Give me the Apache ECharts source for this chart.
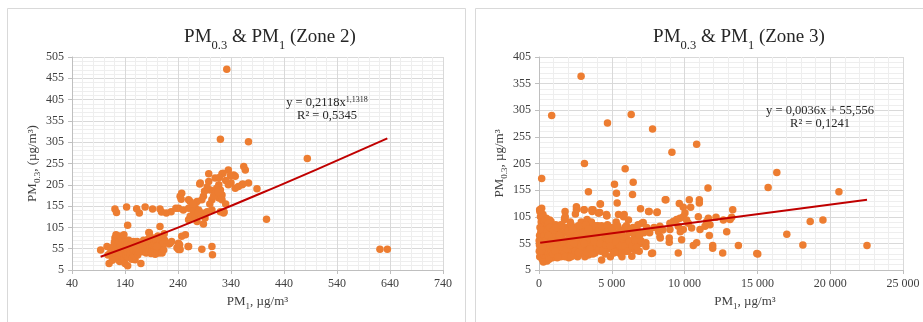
<!DOCTYPE html>
<html><head><meta charset="utf-8">
<script src="https://cdn.jsdelivr.net/npm/echarts@6/dist/echarts.min.js"></script>
<style>html,body{margin:0;padding:0;background:#fff}#c{width:923px;height:322px}</style>
</head><body><div id="c"></div>
<script>
// Zone 2: PM1 (x) vs PM0.3 (y)
const zone2Points = [
[332,476],[320,312],[373,306],[484,267],[407,124],[621,54],[635,54],[389,196],
[364,248],[367,240],[335,240],[345,228],[348,225],[323,231],[325,232],[339,227],[298,231],[310,221],[282,209],[298,213],[317,205],[313,197],[320,193],[301,193],[310,185],[323,181],[317,174],[323,170],[348,197],[361,205],[373,209],[362,207],[354,201],
[244,178],[247,185],[260,170],[263,166],[288,178],[285,170],[304,170],[276,166],[272,154],[241,150],[250,146],[260,150],[269,142],[279,146],[285,139],[295,142],[304,146],[263,131],[272,127],[282,135],[291,127],[276,119],[260,123],[288,113],[320,142],[326,139],[327,141],[281,207],
[254,88],[247,84],[241,68],[238,57],[244,53],[260,60],[285,54],[304,60],[305,41],[225,68],[241,53],[223,66],[243,64],[259,60],
[94,52],[110,20],[121,148],[124,140],[143,153],[145,110],[162,149],[167,139],[178,153],[192,148],[206,148],[209,141],[218,139],[227,142],[236,150],[246,171],[206,107],[185,93],[170,20],[159,29],
[112,45],[115,55],[118,60],[118,35],[120,70],[121,80],[122,50],[124,40],[125,62],[126,30],[127,55],[128,72],[129,45],[130,85],[130,25],[131,60],[132,50],[133,38],[134,68],[135,55],[136,78],[137,44],[138,30],[139,62],[140,50],[140,20],[141,72],[142,40],[143,58],[144,66],[145,48],[145,15],[146,35],[147,75],[148,55],[149,62],[150,42],[151,50],[152,68],[153,30],[154,58],[155,45],[156,72],[157,52],[158,38],[160,62],[161,48],[162,55],[164,40],[165,65],[106,60],[108,40],[116,28],[123,88],[138,88],
[168,55],[170,62],[172,48],[174,68],[175,58],[177,52],[178,72],[180,45],[181,62],[183,55],[184,78],[185,50],[186,66],[188,58],[189,44],[190,70],[191,52],[192,62],[193,80],[194,48],[195,58],[196,68],[197,42],[198,55],[199,75],[200,62],[201,50],[202,85],[203,58],[204,45],[205,66],[206,55],[207,72],[208,50],[209,62],[210,45],[211,58],[212,68],[213,52],[215,75],[186,92],[175,75],[163,72],[166,48],[211,82],[214,90],[200,60],[228,72],
[300,160],[307,178],[315,188],[330,215],[335,205],[318,222],[290,190],[295,200],[268,160],[278,140],[330,160],[340,210]
];
const zone2Trend = [[94,36],[200,85],[300,135],[400,187],[500,240],[635,314]];

// Zone 3: PM1 (x) vs PM0.3 (y)
const zone3Points = [
[2890,369],[872,295],[6331,297],[4703,281],[7800,270],[10828,241],[9130,226],[3120,205],[5918,195],[184,177],[5184,166],[6469,170],[3395,152],[5322,149],[6423,147],[5368,131],[11607,159],[15736,160],[16333,188],[20600,152],[22527,51],[19500,99],[18627,96],[17020,72],[18122,52],[15025,35],
[184,121],[46,118],[275,109],[505,102],[734,99],[826,96],[1766,102],[1790,115],[2569,124],[2569,118],[3097,118],[3716,118],[4221,129],[4175,113],[4634,109],[5850,109],[3625,118],[4083,112],[4657,107],
[50,30],[80,45],[100,60],[120,75],[150,38],[180,52],[200,88],[220,25],[250,68],[280,42],[300,55],[320,80],[350,33],[380,62],[400,48],[420,90],[450,28],[480,72],[500,58],[520,40],[550,22],[580,65],[600,50],[620,82],[650,35],[680,58],[700,45],[720,75],[750,30],[780,62],[800,50],[830,88],[860,40],[880,70],[900,55],[930,28],[960,65],[990,45],[100,105],[60,115],[250,105],[150,95],[350,95],[450,100],[550,97],[650,93],[40,70],[30,52],[20,40],[10,60],[70,85],[300,20],[700,25],[400,75],[850,78],
[1050,35],[1100,55],[1150,70],[1200,45],[1250,28],[1300,62],[1350,80],[1400,50],[1450,38],[1500,30],[1550,68],[1600,55],[1650,42],[1700,75],[1750,100],[1800,105],[1850,48],[1900,62],[1950,85],[2000,35],[2050,58],[2100,72],[2150,45],[2200,90],[2250,43],[2300,65],[2350,52],[2400,78],[2450,38],[2500,110],[2550,60],[2600,120],[2650,48],[2700,88],[2750,70],[2800,35],[2850,55],[2900,95],[2950,65],[3000,42],[1150,90],[1250,50],[1350,40],[1450,75],[1650,62],[1850,80],[2050,28],[2250,60],[2450,85],[2650,30],[2850,75],[1050,72],[1600,88],[2150,95],[2700,52],[2950,80],[1750,35],[2350,32],[2550,78],[1950,50],
[3050,60],[3100,118],[3150,85],[3200,45],[3250,70],[3300,100],[3350,52],[3400,33],[3450,78],[3500,62],[3550,90],[3600,43],[3650,115],[3700,68],[3750,55],[3800,80],[3850,37],[3900,60],[3950,72],[4000,48],[4050,88],[4100,112],[4150,58],[4200,129],[4250,40],[4300,24],[4350,75],[4400,62],[4450,85],[4500,50],[4550,35],[4600,70],[4650,107],[4700,58],[4750,80],[4800,45],[4850,65],[4900,30],[4950,75],[5000,55],[3150,30],[3600,95],[4100,42],[3350,65],[4450,48],
[5050,82],[5100,45],[5116,37],[5150,60],[5200,75],[5250,50],[5300,95],[5350,40],[5400,65],[5460,109],[5500,52],[5550,80],[5600,35],[5650,60],[5700,72],[5750,45],[5804,105],[5850,58],[5900,85],[5950,40],[6000,65],[6050,50],[6148,99],[6200,75],[6250,45],[6300,60],[6377,31],[6450,85],[6500,55],[6550,70],[6600,42],[6700,62],[6800,78],[6882,40],[6950,55],[7066,93],[7157,94],[7341,49],[7341,56],
[6974,120],[7570,115],[8120,114],[8098,113],[7524,115],[7800,37],[7731,36],[8304,87],[8304,68],[8327,65],[8212,77],[8992,81],[8946,65],[8946,57],[9566,87],[9910,81],[9566,37],[9795,62],[9704,77],[8717,137],[8670,137],[9635,130],[10323,137],[11011,137],[11011,131],[9910,123],[10415,123],[10025,112],[9910,105],[9680,102],[9451,100],[9222,96],[8992,93],[10942,105],[11630,102],[12158,104],[13305,118],[13236,104],[12663,99],[13122,100],[10140,99],[10254,93],[10484,84],[11057,81],[11401,87],[11745,90],[11516,96],[12892,77],[11699,70],[10828,56],[10598,51],[11929,51],[11929,46],[13695,51],[12617,37],[14957,36],[7900,85],[8500,80],[7600,75],
[150,80],[250,50],[350,70],[450,60],[550,78],[650,70],[750,85],[850,60],[950,35],[1000,80],[1100,40],[1200,85],[1300,30],[1400,70],[1500,90],[1550,48],[1700,55],[1800,30],[1900,45],[2000,78],[2100,52],[2200,30],[2300,82],[2400,55],[2500,40],[2600,70],[2700,38],[2800,88],[2900,50],[3000,75],[3100,55],[3200,90],[3300,38],[3400,82],[3500,45],[3600,70],[3700,35],[3800,58],[3900,88],[4000,70],[4100,80],[4200,55],[4300,88],[4400,42],[4500,72],[4600,52],[4700,90],[4800,62],[4900,50],[5000,85],[5100,70],[5200,38],[5300,58],[5400,88],[5500,72],[5600,50],[5700,30],[5800,68],[5900,50],[6000,88],[6100,40],[6200,58],[6300,82],[6400,50],[6500,75],[6600,60],[6700,48],[6800,90],[6900,70],[7000,60],[7200,75],[7400,85]
];
const zone3Trend = [[80,56],[22530,137]];

const zone2Title = '{n|PM}{s|0.3}{n| & PM}{s|1}{n| (Zone 2)}';
const zone3Title = '{n|PM}{s|0.3}{n| & PM}{s|1}{n| (Zone 3)}';
const zone2YName = '{n|PM}{s|0.3}{n|, (µg/m³)}';
const zone3YName = '{n|PM}{s|0.3}{n|, µg/m³}';
const xName = '{n|PM}{s|1}{n|, µg/m³}';

const FONT = '"Liberation Serif","Times New Roman",serif';
const TXT = '#404040';
const richTitle = {
  n:{fontFamily:FONT,fontSize:19,fontWeight:'normal',color:'#262626',lineHeight:24,verticalAlign:'bottom'},
  s:{fontFamily:FONT,fontSize:12.5,fontWeight:'normal',color:'#262626',lineHeight:24,verticalAlign:'bottom',padding:[0,0,-5,0]}
};
const richName = {
  n:{fontFamily:FONT,fontSize:13,color:TXT,lineHeight:16,verticalAlign:'bottom'},
  s:{fontFamily:FONT,fontSize:9,color:TXT,lineHeight:16,verticalAlign:'bottom',padding:[0,0,-3,0]}
};

function xAxis(gi,min,max,interval,fmt,pad){
  return {gridIndex:gi,type:'value',min:min,max:max,interval:interval,
    name:xName,nameLocation:'middle',nameGap:22,
    nameTextStyle:{rich:richName,padding:pad},
    axisLine:{show:true,lineStyle:{color:'#bfbfbf'}},
    axisTick:{show:true,length:4,lineStyle:{color:'#bfbfbf'}},
    axisLabel:{fontFamily:FONT,fontSize:12,color:'#404040',margin:8,formatter:fmt},
    splitLine:{show:true,lineStyle:{color:'#d9d9d9'}},
    minorSplitLine:{show:true,lineStyle:{color:'#eeeeee'}},
    minorTick:{show:false,splitNumber:5}};
}
function yAxis(gi,min,max,name,gap){
  return {gridIndex:gi,type:'value',min:min,max:max,interval:50,
    name:name,nameLocation:'middle',nameGap:gap,nameRotate:90,
    nameTextStyle:{rich:richName},
    axisLine:{show:true,lineStyle:{color:'#bfbfbf'}},
    axisTick:{show:true,length:4,lineStyle:{color:'#bfbfbf'}},
    axisLabel:{fontFamily:FONT,fontSize:12,color:'#404040',margin:8},
    splitLine:{show:true,lineStyle:{color:'#d9d9d9'}},
    minorSplitLine:{show:true,lineStyle:{color:'#eeeeee'}},
    minorTick:{show:false,splitNumber:5}};
}
const spaceFmt = v => String(v).replace(/\B(?=(\d{3})+(?!\d))/g,' ');

const chart = echarts.init(document.getElementById('c'),null,{renderer:'canvas'});
chart.setOption({
  animation:false,
  backgroundColor:'#fff',
  title:[
    {text:zone2Title,left:265,top:18,textAlign:'center',textStyle:{fontWeight:'normal',rich:richTitle}},
    {text:zone3Title,left:734,top:18,textAlign:'center',textStyle:{fontWeight:'normal',rich:richTitle}}
  ],
  graphic:[
    {type:'rect',shape:{x:7.5,y:8.5,width:458,height:330},style:{fill:null,stroke:'#d9d9d9',lineWidth:1},z:-10},
    {type:'rect',shape:{x:475.5,y:8.5,width:460,height:330},style:{fill:null,stroke:'#d9d9d9',lineWidth:1},z:-10},
    {type:'text',x:327,y:96,style:{text:'y = 0,2118x{p|1,1318}\nR² = 0,5345',textAlign:'center',fontFamily:FONT,fontSize:12.5,fill:'#262626',lineHeight:13,
      rich:{p:{fontFamily:FONT,fontSize:8,fill:'#262626',verticalAlign:'top',lineHeight:13}}},z:50},
    {type:'text',x:820,y:104,style:{text:'y = 0,0036x + 55,556\nR² = 0,1241',textAlign:'center',fontFamily:FONT,fontSize:12.5,fill:'#262626',lineHeight:13},z:50}
  ],
  grid:[
    {left:72,right:480,top:57,bottom:52},
    {left:539,right:20,top:57,bottom:52}
  ],
  xAxis:[
    xAxis(0,40,740,100,null,[0,0,0,0]),
    xAxis(1,0,25000,5000,spaceFmt,[0,0,0,48])
  ],
  yAxis:[
    yAxis(0,5,505,zone2YName,32),
    yAxis(1,5,405,zone3YName,31)
  ],
  series:[
    {type:'scatter',xAxisIndex:0,yAxisIndex:0,data:zone2Points,symbolSize:7.5,itemStyle:{color:'#ED7D31',opacity:1},z:3},
    {type:'line',xAxisIndex:0,yAxisIndex:0,data:zone2Trend,showSymbol:false,symbol:'none',smooth:true,lineStyle:{color:'#C00000',width:2},z:4},
    {type:'scatter',xAxisIndex:1,yAxisIndex:1,data:zone3Points,symbolSize:7.5,itemStyle:{color:'#ED7D31',opacity:1},z:3},
    {type:'line',xAxisIndex:1,yAxisIndex:1,data:zone3Trend,showSymbol:false,symbol:'none',lineStyle:{color:'#C00000',width:2},z:4}
  ]
});
</script></body></html>
